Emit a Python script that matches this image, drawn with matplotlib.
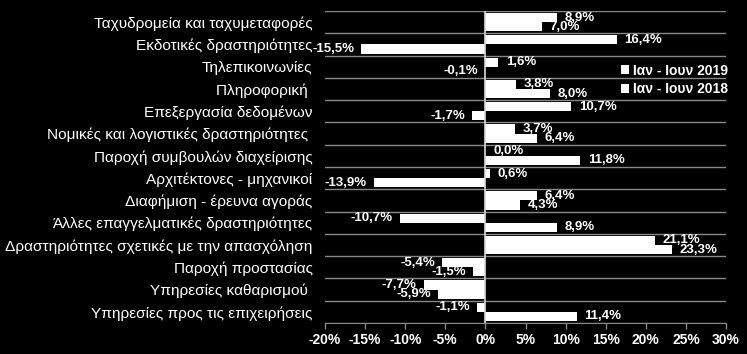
import matplotlib
matplotlib.use("Agg")
import matplotlib.pyplot as plt
import numpy as np
from matplotlib.ticker import MultipleLocator, FuncFormatter

categories = [
    "Ταχυδρομεία και ταχυμεταφορές",
    "Εκδοτικές δραστηριότητες",
    "Τηλεπικοινωνίες",
    "Πληροφορική ",
    "Επεξεργασία δεδομένων",
    "Νομικές και λογιστικές δραστηριότητες ",
    "Παροχή συμβουλών διαχείρισης",
    "Αρχιτέκτονες - μηχανικοί",
    "Διαφήμιση - έρευνα αγοράς",
    "Άλλες επαγγελματικές δραστηριότητες",
    "Δραστηριότητες σχετικές με την απασχόληση",
    "Παροχή προστασίας",
    "Υπηρεσίες καθαρισμού ",
    "Υπηρεσίες προς τις επιχειρήσεις",
]
series_names = ["Ιαν - Ιουν 2019", "Ιαν - Ιουν 2018"]
values_2019 = [8.9, 16.4, 1.6, 3.8, 10.7, 3.7, 0.0, 0.6, 6.4, -10.7, 21.1, -5.4, -7.7, -1.1]
values_2018 = [7.0, -15.5, -0.1, 8.0, -1.7, 6.4, 11.8, -13.9, 4.3, 8.9, 23.3, -1.5, -5.9, 11.4]

plt.rcParams['font.family'] = ['Liberation Sans', 'DejaVu Sans']

W, H = 747, 354
fig = plt.figure(figsize=(W / 100, H / 100), dpi=100)
fig.patch.set_facecolor('black')
ax = fig.add_axes([325 / W, (H - 323) / H, 401 / W, 312 / H])
ax.set_facecolor('black')

n = len(categories)
y = np.arange(n)
bh = 0.41
b1 = ax.barh(y - bh / 2, values_2019, height=bh, color='white', label=series_names[0], zorder=3)
b2 = ax.barh(y + bh / 2, values_2018, height=bh, color='white', label=series_names[1], zorder=3)

ax.set_xlim(-20, 30)
ax.set_ylim(n - 0.5, -0.5)

ax.xaxis.set_major_locator(MultipleLocator(5))
ax.xaxis.set_major_formatter(FuncFormatter(lambda v, p: f"{v:.0f}%"))
ax.set_yticks(y)
ax.set_yticklabels(categories)
ax.set_yticks(np.arange(n + 1) - 0.5, minor=True)
ax.tick_params(axis='y', which='major', length=0, pad=9.0, labelsize=11.1, labelcolor='white')
ax.tick_params(axis='y', which='minor', length=0)
ax.tick_params(axis='x', which='major', length=4, width=1, color='#888888', pad=3.5,
               labelsize=10, labelcolor='white')
for lbl in ax.get_xticklabels():
    lbl.set_fontweight('bold')
ax.grid(axis='y', which='minor', color='#888888', linewidth=1, zorder=1)
ax.grid(axis='x', which='major', visible=False)

for s in ['left', 'right', 'top']:
    ax.spines[s].set_visible(False)
ax.spines['bottom'].set_color('#888888')
ax.axvline(0, color='#d9d9d9', linewidth=1.2, zorder=4)

def add_labels(bars, vals):
    for rect, v in zip(bars, vals):
        yc = rect.get_y() + rect.get_height() / 2
        txt = f"{v:.1f}%".replace('.', ',')
        if v < 0:
            ax.annotate(txt, (v, yc), xytext=(-5, 0), textcoords='offset points',
                        ha='right', va='center', color='white', fontsize=9.5,
                        fontweight='bold', zorder=5)
        else:
            ax.annotate(txt, (v, yc), xytext=(5.5, 0), textcoords='offset points',
                        ha='left', va='center', color='white', fontsize=9.5,
                        fontweight='bold', zorder=5)

add_labels(b1, values_2019)
add_labels(b2, values_2018)

leg = ax.legend(loc='upper left', bbox_to_anchor=((615 - 325) / 401, (323 - 58) / 312),
                frameon=False, fontsize=10, handlelength=0.6, handleheight=0.6,
                handletextpad=0.3, labelspacing=0.35, borderaxespad=0)
for t in leg.get_texts():
    t.set_color('white')
    t.set_fontweight('bold')

fig.savefig('out.png', dpi=100, facecolor='black')
